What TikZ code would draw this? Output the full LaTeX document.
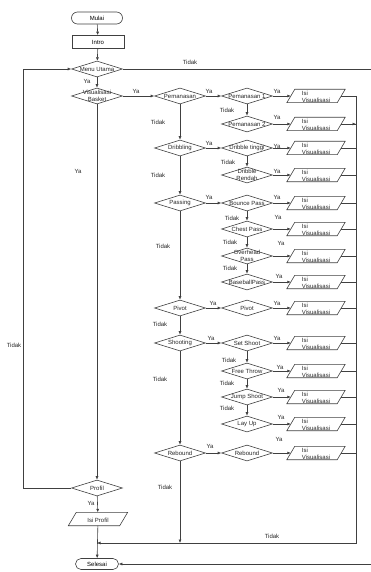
\documentclass[tikz,border=0pt]{standalone}
\usepackage{fontspec}
\setmainfont{Liberation Sans}
\usetikzlibrary{arrows.meta,shapes.geometric}

\newcommand{\flowfont}{\fontsize{6}{7.5}\selectfont}

\tikzset{
  line/.style={draw=black!75, line width=0.6pt},
  arr/.style={line, -{Latex[length=3.5pt,width=3pt]}},
  txt/.style={font=\flowfont, inner sep=0pt, align=center, text=black!85},
  term/.style={line, rectangle, rounded corners=6pt, minimum width=51pt, minimum height=12pt, inner sep=0pt, font=\flowfont},
  proc/.style={line, rectangle, minimum width=52pt, minimum height=13pt, inner sep=0pt, font=\flowfont},
  dec/.style={line, diamond, minimum width=51pt, minimum height=16pt, inner sep=0pt, label={[txt]center:#1}},
  io/.style={rectangle, minimum width=50pt, minimum height=13pt, inner sep=0pt, label={[txt, align=left, yshift=-1pt]center:#1},
    append after command={\pgfextra{\draw[line]
      ([xshift=-4pt]\tikzlastnode.south west) -- ([xshift=4pt]\tikzlastnode.north west) --
      ([xshift=4pt]\tikzlastnode.north east) -- ([xshift=-4pt]\tikzlastnode.south east) -- cycle;}}}
}

\begin{document}
\begin{tikzpicture}[x=1pt, y=-1pt]
\useasboundingbox (0,0) rectangle (371,572);

% ========== main column ==========
\node[term] (mulai) at (97,18) {Mulai};
\node[proc] (intro) at (98,42) {Intro};
\node[dec=Menu Utama] (menu) at (97,69) {};
\node[dec={Visualisasi\\Basket}] (vis) at (97,96) {};
\node[dec=Profil] (profil) at (97,488) {};
\node[io=Isi Profil, minimum width=51pt] (isiprofil) at (98,519) {};
\node[term, minimum width=43pt, minimum height=11pt, rounded corners=5.5pt] (selesai) at (97,564) {Selesai};

\draw[arr] (mulai) -- (intro);
\draw[arr] (intro) -- (menu);
\draw[arr] (menu) -- (vis);
\draw[arr] (vis) -- (profil);
\draw[arr] (profil) -- (isiprofil);
\draw[arr] (isiprofil) -- (selesai);

% loops round the picture
\coordinate (leftBot) at (23,488);
\coordinate (leftTop) at (23,69);
\draw[arr] (profil.west) -- (leftBot) -- (leftTop) -- (menu.west);
\coordinate (farTop) at (374,69);
\coordinate (farBot) at (374,564);
\draw[arr] (menu.east) -- (farTop) -- (farBot) -- (selesai.east);

% ========== second column ==========
\foreach \nm/\yy/\lab in {pem/96/Pemanasan, drib/148/Dribbling, pass/203/Passing,
    pivA/308/Pivot, shoot/343/Shooting, reb/453/Rebound}
  \node[dec=\lab] (\nm) at (180,\yy) {};

\draw[arr] (vis) -- (pem);
\foreach \a/\b in {pem/drib, drib/pass, pass/pivA, pivA/shoot, shoot/reb}
  \draw[arr] (\a) -- (\b);

% ========== third column + Isi Visualisasi ==========
\coordinate (bus) at (356,96);
\coordinate (busEnd) at (356,543);
\coordinate (join) at (selesai.north |- busEnd);

\foreach \nm/\yy/\lab in {pemA/96/{Pemanasan 1}, pemB/124/{Pemanasan 2},
    dribA/148/{Dribble tinggi}, dribB/175/{Dribble\\Rendah},
    bounce/203/{Bounce Pass}, chest/229/{Chest Pass},
    over/256/{Overhead\\Pass}, base/282/{BaseballPass},
    pivB/308/Pivot, set/343/{Set Shoot}, free/371/{Free Throw},
    jump/397/{Jump Shoot}, lay/424/{Lay Up}, rebB/453/Rebound}
{
  \node[dec=\lab] (\nm) at (247,\yy) {};
  \node[io={Isi\\Visualisasi}] (isi\nm) at (316,\yy) {};
  \draw[arr] (\nm) -- (isi\nm);
  \draw[line] (isi\nm.east) -- (isi\nm.east -| bus);
}
\draw[arr] (isipemB.east) -- (isipemB.east -| bus);

\foreach \a/\b in {pem/pemA, drib/dribA, pass/bounce, pivA/pivB, shoot/set, reb/rebB}
  \draw[arr] (\a) -- (\b);
\foreach \a/\b in {pemA/pemB, dribA/dribB, bounce/chest, chest/over, over/base,
    set/free, free/jump, jump/lay}
  \draw[arr] (\a) -- (\b);

% collector back to Selesai
\draw[arr] (bus) -- (busEnd) -- (join);
\draw[arr] (reb.south) -- (reb.south |- busEnd);

% ========== labels ==========
\foreach \xx/\yy [count=\i] in {87/81, 136/91, 209/91, 277/91, 277/117, 209/143,
    277/146, 277/171, 209/197, 277/197, 278/217, 281/243, 279/276, 213/303,
    277/303, 211/338, 277/338, 280/367, 281/390, 281/417, 279/439, 210/446,
    78/171, 91/503}
  \node[txt] (ya\i) at (\xx,\yy) {Ya};
\foreach \xx/\yy [count=\i] in {190/62, 14/345, 158/122, 227/110, 228/162,
    158/175, 163/246, 232/218, 230/242, 230/268, 160/324, 229/360, 227/383,
    227/408, 160/379, 165/487, 272/536}
  \node[txt] (tidak\i) at (\xx,\yy) {Tidak};

\end{tikzpicture}
\end{document}
